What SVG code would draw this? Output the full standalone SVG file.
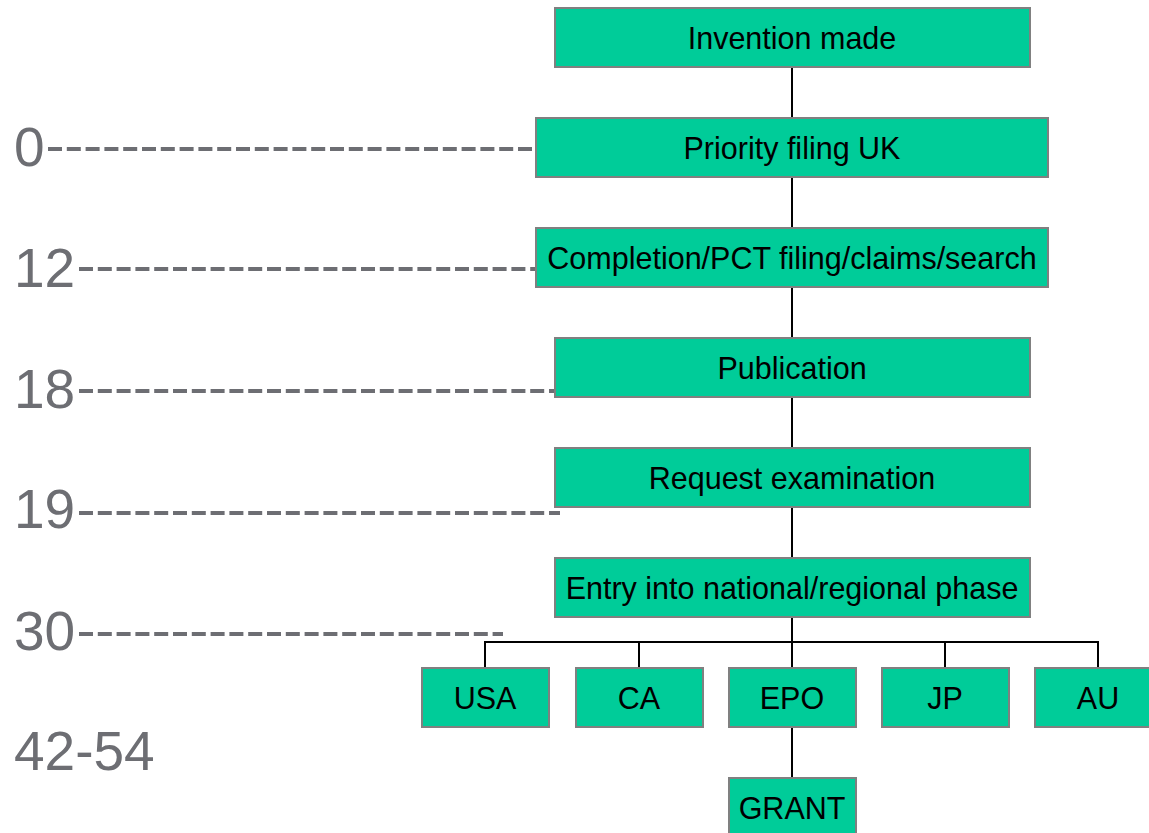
<svg xmlns="http://www.w3.org/2000/svg" width="1149" height="833" viewBox="0 0 1149 833">
<style>
.box{fill:#00cc99;stroke:#808080;stroke-width:2}
.t{font-family:"Liberation Sans",Arial,sans-serif;font-size:30.5px;fill:#000;text-anchor:middle;dominant-baseline:central}
.lbl{font-family:"Liberation Sans",Arial,sans-serif;font-size:55px;fill:#6d6e73}
.dash{stroke:#6d6e73;stroke-width:4;stroke-dasharray:14 4.8;fill:none}
.con{stroke:#000;stroke-width:2;fill:none}
</style>
<rect width="1149" height="833" fill="#fff"/>
<g id="timeline">
<text class="lbl" x="14" y="166">0</text>
<line class="dash" x1="48" y1="149" x2="536" y2="149"/>
<text class="lbl" x="14" y="287">12</text>
<line class="dash" x1="79" y1="269" x2="536" y2="269"/>
<text class="lbl" x="14" y="408">18</text>
<line class="dash" x1="79" y1="391" x2="555" y2="391"/>
<text class="lbl" x="14" y="528">19</text>
<line class="dash" x1="79" y1="513" x2="560" y2="513"/>
<text class="lbl" x="14" y="650">30</text>
<line class="dash" x1="79" y1="634" x2="503" y2="634"/>
<text class="lbl" x="14" y="770">42-54</text>
</g>
<g id="connectors">
<path class="con" d="M792 67V118M792 177V228M792 287V338M792 397V448M792 507V558M792 617V642M485 668V642H1098V668M639 642V668M792 642V668M945 642V668M792 727V778"/>
</g>
<g id="n-invention"><rect class="box" x="555" y="8" width="475" height="59"/><text class="t" x="792" y="38">Invention made</text></g>
<g id="n-priority"><rect class="box" x="536" y="118" width="512" height="59"/><text class="t" x="792" y="148">Priority filing UK</text></g>
<g id="n-completion"><rect class="box" x="536" y="228" width="512" height="59"/><text class="t" x="792" y="258">Completion/PCT filing/claims/search</text></g>
<g id="n-publication"><rect class="box" x="555" y="338" width="475" height="59"/><text class="t" x="792" y="368">Publication</text></g>
<g id="n-request"><rect class="box" x="555" y="448" width="475" height="59"/><text class="t" x="792" y="478">Request examination</text></g>
<g id="n-entry"><rect class="box" x="555" y="558" width="475" height="59"/><text class="t" x="792" y="588">Entry into national/regional phase</text></g>
<g id="n-usa"><rect class="box" x="422" y="668" width="127" height="59"/><text class="t" x="485" y="698">USA</text></g>
<g id="n-ca"><rect class="box" x="576" y="668" width="127" height="59"/><text class="t" x="639" y="698">CA</text></g>
<g id="n-epo"><rect class="box" x="729" y="668" width="127" height="59"/><text class="t" x="792" y="698">EPO</text></g>
<g id="n-jp"><rect class="box" x="882" y="668" width="127" height="59"/><text class="t" x="945" y="698">JP</text></g>
<g id="n-au"><rect class="box" x="1035" y="668" width="127" height="59"/><text class="t" x="1098" y="698">AU</text></g>
<g id="n-grant"><rect class="box" x="729" y="778" width="127" height="59"/><text class="t" x="792" y="808">GRANT</text></g>
</svg>
